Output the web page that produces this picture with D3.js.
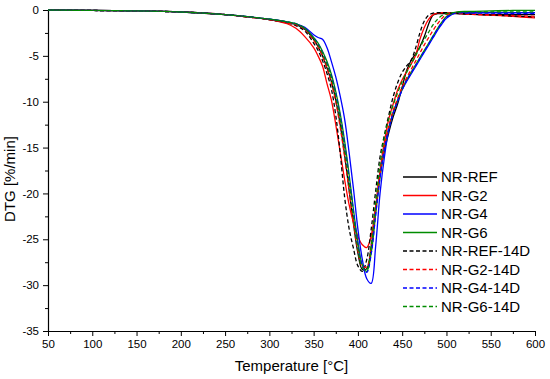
<!DOCTYPE html>
<html><head><meta charset="utf-8">
<script src="https://cdn.jsdelivr.net/npm/d3@7"></script>
<style>
html,body{margin:0;padding:0;background:#fff;}
svg{display:block;font-family:"Liberation Sans",Arial,sans-serif;}
</style></head>
<body><svg id="c" width="550" height="379"></svg>
<script>
const temps = [50,100,150,200,250,275,300,320,330,340,350,355,360,365,370,375,380,385,390,395,400,405,410,415,420,425,430,435,440,445,450,455,460,465,470,475,480,485,490,495,500,510,525,550,575,600];

const nrRef   = [0,-0.05,-0.1,-0.22,-0.5,-0.75,-1.05,-1.4,-1.6,-2.1,-3.2,-4.0,-5.0,-6.3,-7.8,-9.8,-12.5,-15.8,-19.6,-23.3,-26.5,-28.3,-28.2,-25.8,-21.8,-18.0,-15.3,-13.3,-11.6,-10.2,-8.4,-6.6,-5.5,-4.8,-4.0,-2.9,-1.5,-0.55,-0.4,-0.4,-0.4,-0.4,-0.45,-0.5,-0.5,-0.5];
const nrG2    = [0,-0.05,-0.1,-0.22,-0.5,-0.75,-1.05,-1.5,-2.0,-2.9,-4.1,-5.0,-6.1,-8.0,-9.8,-12.5,-15.5,-18.5,-21.2,-23.2,-24.7,-25.6,-25.9,-24.6,-21.5,-17.5,-14.3,-11.8,-10.2,-8.7,-7.6,-6.7,-5.9,-5.0,-3.2,-1.9,-1.0,-0.5,-0.35,-0.3,-0.3,-0.35,-0.45,-0.55,-0.7,-0.85];
const nrG4    = [0,-0.05,-0.1,-0.22,-0.5,-0.72,-1.0,-1.3,-1.5,-1.9,-2.7,-3.0,-3.2,-4.1,-5.6,-7.3,-9.4,-11.9,-15.5,-19.5,-23.9,-27.2,-29.3,-29.8,-25.8,-20.0,-16.0,-13.0,-11.2,-9.9,-8.7,-7.8,-7.0,-6.2,-5.4,-4.6,-3.8,-3.0,-2.2,-1.5,-0.9,-0.3,-0.3,-0.3,-0.3,-0.3];
const nrG6    = [0,-0.05,-0.1,-0.22,-0.5,-0.72,-1.0,-1.3,-1.5,-2.0,-3.0,-3.6,-4.5,-5.6,-7.0,-8.9,-11.3,-14.3,-17.9,-21.8,-25.3,-27.8,-28.5,-26.5,-22.3,-18.2,-15.0,-12.8,-11.1,-9.8,-8.6,-7.6,-6.8,-6.0,-5.2,-4.4,-3.6,-2.8,-2.0,-1.3,-0.7,-0.25,-0.15,-0.1,-0.05,-0.05];
const nrRef14 = [0,-0.05,-0.1,-0.22,-0.5,-0.75,-1.05,-1.4,-1.7,-2.3,-3.6,-4.4,-5.5,-6.9,-8.6,-11.5,-15.6,-20.4,-23.8,-26.0,-27.9,-28.5,-27.2,-23.9,-19.8,-16.0,-13.6,-11.4,-9.4,-7.9,-6.8,-6.1,-5.5,-4.2,-2.5,-1.2,-0.55,-0.35,-0.3,-0.3,-0.3,-0.35,-0.45,-0.55,-0.65,-0.75];
const nrG214  = [0,-0.05,-0.1,-0.22,-0.5,-0.75,-1.05,-1.4,-1.6,-2.1,-3.3,-4.0,-5.0,-6.3,-7.9,-10.0,-12.8,-16.0,-19.6,-23.2,-26.3,-28.0,-28.0,-25.6,-21.6,-17.8,-14.8,-12.6,-10.9,-9.6,-8.4,-7.4,-6.5,-5.6,-4.7,-3.8,-3.0,-2.2,-1.5,-0.9,-0.5,-0.35,-0.45,-0.55,-0.6,-0.7];
const nrG414  = [0,-0.05,-0.1,-0.22,-0.5,-0.72,-1.0,-1.3,-1.5,-2.0,-3.0,-3.7,-4.6,-5.8,-7.2,-9.1,-11.6,-14.6,-18.2,-22.0,-25.5,-27.9,-28.6,-26.6,-22.4,-18.3,-15.1,-12.9,-11.2,-9.9,-8.7,-7.7,-6.9,-6.1,-5.3,-4.5,-3.7,-2.9,-2.1,-1.4,-0.8,-0.35,-0.35,-0.35,-0.4,-0.4];
const nrG614  = [0,-0.05,-0.1,-0.22,-0.5,-0.72,-1.0,-1.3,-1.5,-2.0,-3.1,-3.8,-4.7,-5.9,-7.4,-9.4,-12.0,-15.1,-18.8,-22.6,-26.0,-28.1,-28.3,-25.7,-21.0,-16.8,-13.8,-11.8,-10.3,-9.0,-7.8,-6.8,-5.9,-5.0,-4.1,-3.2,-2.4,-1.6,-1.0,-0.6,-0.4,-0.25,-0.2,-0.2,-0.2,-0.2];

const seriesNames = ["NR-REF","NR-G2","NR-G4","NR-G6","NR-REF-14D","NR-G2-14D","NR-G4-14D","NR-G6-14D"];
const seriesValues = [nrRef,nrG2,nrG4,nrG6,nrRef14,nrG214,nrG414,nrG614];
const seriesColors = ["#000000","#ff0000","#0000ff","#008c00","#000000","#ff0000","#0000ff","#008c00"];
const seriesDashed = [false,false,false,false,true,true,true,true];

const xTicks = [50,100,150,200,250,300,350,400,450,500,550,600];
const yTicks = [0,-5,-10,-15,-20,-25,-30,-35];

const svg = d3.select("#c");
const x = d3.scaleLinear().domain([50,600]).range([48,535]);
const y = d3.scaleLinear().domain([-35,0]).range([331,10]);

// minor ticks
const xMinor = d3.range(75,600,50);
const yMinor = d3.range(-32.5,0,5);
svg.append("g").attr("transform","translate(0,331)")
  .call(d3.axisBottom(x).tickValues(xMinor).tickSize(3).tickFormat("").tickSizeOuter(0))
  .call(g=>g.select(".domain").remove());
svg.append("g").attr("transform","translate(48,0)")
  .call(d3.axisLeft(y).tickValues(yMinor).tickSize(3).tickFormat("").tickSizeOuter(0))
  .call(g=>g.select(".domain").remove());

const gx = svg.append("g").attr("transform","translate(0,331)")
  .call(d3.axisBottom(x).tickValues(xTicks).tickSize(5).tickPadding(4).tickSizeOuter(0).tickFormat(d=>String(d)));
const gy = svg.append("g").attr("transform","translate(48,0)")
  .call(d3.axisLeft(y).tickValues(yTicks).tickSize(5).tickPadding(4).tickSizeOuter(0).tickFormat(d=>String(d)));
[gx,gy].forEach(g=>{
  g.selectAll("text").attr("font-size","11.5px").attr("fill","#000").attr("font-family",'"Liberation Sans",Arial,sans-serif');
  g.selectAll("line").attr("stroke","#000");
  g.select(".domain").attr("stroke","#000").attr("stroke-width",1.2);
});
svg.selectAll("g line").attr("stroke","#000");

const line = d3.line().curve(d3.curveCatmullRom.alpha(0.5))
  .x((d,i)=>x(temps[i])).y(d=>y(d));

const plot = svg.append("g");
seriesValues.forEach((vals,k)=>{
  plot.append("path").datum(vals)
    .attr("d",line)
    .attr("fill","none")
    .attr("stroke",seriesColors[k])
    .attr("stroke-width",1.3)
    .attr("stroke-dasharray",seriesDashed[k]?"4,2.5":null);
});

// legend
const leg = svg.append("g");
seriesNames.forEach((n,k)=>{
  const yy = 177 + k*18.5;
  leg.append("line").attr("x1",403).attr("x2",437).attr("y1",yy).attr("y2",yy)
    .attr("stroke",seriesColors[k]).attr("stroke-width",1.4)
    .attr("stroke-dasharray",seriesDashed[k]?"4,2.5":null);
  leg.append("text").attr("x",441).attr("y",yy).attr("dy","0.36em")
    .attr("font-size","15px").attr("fill","#000").text(n);
});

svg.append("text").attr("x",291.5).attr("y",371).attr("text-anchor","middle")
  .attr("font-size","15px").attr("fill","#000").text("Temperature [°C]");
svg.append("text").attr("transform","translate(15,179) rotate(-90)").attr("text-anchor","middle")
  .attr("font-size","15px").attr("fill","#000").text("DTG [%/min]");
</script></body></html>
